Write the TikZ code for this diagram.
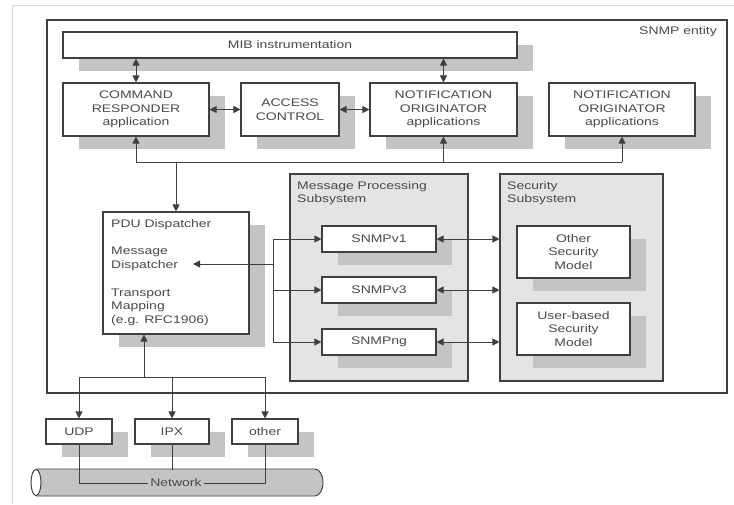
\documentclass[tikz,border=0pt]{standalone}
\usepackage{fontspec}
\setmainfont[FakeStretch=1.27]{Liberation Sans}
\usetikzlibrary{arrows.meta,shadows}
\definecolor{ln}{HTML}{404040}
\definecolor{tx}{HTML}{4A4A4A}
\definecolor{shg}{HTML}{C4C4C4}
\definecolor{sub}{HTML}{E2E5E2}
\definecolor{frm}{HTML}{D6D6D6}
\begin{document}
\begin{tikzpicture}[x=1pt,y=-1pt,
  every node/.style={font=\fontsize{11}{13.6}\selectfont, text=tx},
  box/.style={draw=ln, line width=1.1pt, fill=white, inner sep=0pt, align=center,
    general shadow={fill=shg, shadow xshift=16pt, shadow yshift=-13pt}},
  subsys/.style={draw=ln, line width=1.1pt, fill=sub, inner sep=0pt},
  lbl/.style={inner sep=0pt, align=left, anchor=west},
  conn/.style={draw=ln, line width=0.9pt},
  arr/.style={conn, -{Triangle[length=7pt,width=7pt]}},
  darr/.style={conn, {Triangle[length=7pt,width=7pt]}-{Triangle[length=7pt,width=7pt]}},
]
\useasboundingbox (0,0) rectangle (734,504);
\draw[frm, line width=1pt] (12,504) -- (12,5) -- (734,5);

% SNMP entity
\node[draw=ln, line width=1.1pt, minimum width=680, minimum height=373, inner sep=0pt] (ent) at (387,206.5) {};
\node[inner sep=0pt] (enttitle) at (678,32) {SNMP entity};

% top row
\node[box, minimum width=454, minimum height=26] (MIB) at (290,45) {MIB instrumentation};
\node[box, minimum width=146, minimum height=53] (CR) at (136,109.5) {COMMAND\\RESPONDER\\application};
\node[box, minimum width=98, minimum height=53] (AC) at (290,109.5) {ACCESS\\CONTROL};
\node[box, minimum width=147, minimum height=53] (NO1) at (443.5,109.5) {NOTIFICATION\\ORIGINATOR\\applications};
\node[box, minimum width=146, minimum height=53] (NO2) at (622,109.5) {NOTIFICATION\\ORIGINATOR\\applications};

% PDU dispatcher
\node[box, minimum width=146, minimum height=122] (PDU) at (176,273) {};
\node[lbl] (pdut) at (111,225) {PDU Dispatcher};
\node[lbl] (mdt) at (111,259) {Message\\Dispatcher};
\node[lbl] (tmt) at (111,307) {Transport\\Mapping\\(e.g. RFC1906)};

% subsystems
\node[subsys, minimum width=178, minimum height=207] (MPS) at (379,277.5) {};
\node[lbl] (mpst) at (297,193) {Message Processing\\Subsystem};
\node[subsys, minimum width=163, minimum height=207] (SS) at (581.5,277.5) {};
\node[lbl] (sst) at (507,193) {Security\\Subsystem};

\node[box, minimum width=114, minimum height=26] (v1) at (379,239) {SNMPv1};
\node[box, minimum width=114, minimum height=26] (v3) at (379,290) {SNMPv3};
\node[box, minimum width=114, minimum height=26] (ng) at (379,342) {SNMPng};
\node[box, minimum width=113, minimum height=52] (OSM) at (573.5,252) {Other\\Security\\Model};
\node[box, minimum width=113, minimum height=52] (USM) at (573.5,329) {User-based\\Security\\Model};

% transports
\node[box, minimum width=66, minimum height=25] (UDP) at (79,431.5) {UDP};
\node[box, minimum width=74, minimum height=25] (IPX) at (172,431.5) {IPX};
\node[box, minimum width=66, minimum height=25] (other) at (265,431.5) {other};

% network tube
\draw[ln, line width=0.9pt, fill=shg] (36,469) -- (315,469)
  arc[start angle=-90, end angle=90, x radius=8, y radius=13.5] -- (36,496);
\draw[ln, line width=1pt, fill=white] (36,482.5) ellipse[x radius=5, y radius=13];
\node[fill=shg, inner sep=2pt] (net) at (176,483) {Network};
\coordinate (tubetop) at (172,470);

% connectors: top
\draw[darr] (CR.north |- MIB.south) -- (CR.north);
\draw[darr] (NO1.north |- MIB.south) -- (NO1.north);
\draw[darr] (CR.east) -- (AC.west);
\draw[darr] (AC.east) -- (NO1.west);

\coordinate (ybus) at (0,162);
\draw[conn] (CR.south |- ybus) -- (NO2.south |- ybus);
\draw[arr] (CR.south |- ybus) -- (CR.south);
\draw[arr] (NO1.south |- ybus) -- (NO1.south);
\draw[arr] (NO2.south |- ybus) -- (NO2.south);
\draw[arr] (PDU.north |- ybus) -- (PDU.north);

% dispatcher to message processing
\coordinate (dsp) at (273,264);
\coordinate (mdtip) at (193,264);
\draw[arr] (dsp) -- (mdtip);
\draw[conn] (v1.west -| dsp) -- (ng.west -| dsp);
\draw[arr] (v1.west -| dsp) -- (v1.west);
\draw[arr] (v3.west -| dsp) -- (v3.west);
\draw[arr] (ng.west -| dsp) -- (ng.west);

% message processing to security
\draw[darr] (v1.east) -- (v1.east -| SS.west);
\draw[darr] (v3.east) -- (v3.east -| SS.west);
\draw[darr] (ng.east) -- (ng.east -| SS.west);

% bottom bus
\coordinate (nbus) at (144,377);
\draw[arr] (nbus) -- (nbus |- PDU.south);
\draw[conn] (UDP.north |- nbus) -- (other.north |- nbus);
\draw[arr] (UDP.north |- nbus) -- (UDP.north);
\draw[arr] (IPX.north |- nbus) -- (IPX.north);
\draw[arr] (other.north |- nbus) -- (other.north);

% to network
\draw[conn] (UDP.south) |- (net.west);
\draw[conn] (other.south) |- (net.east);
\draw[conn] (IPX.south) -- (tubetop);
\end{tikzpicture}
\end{document}
